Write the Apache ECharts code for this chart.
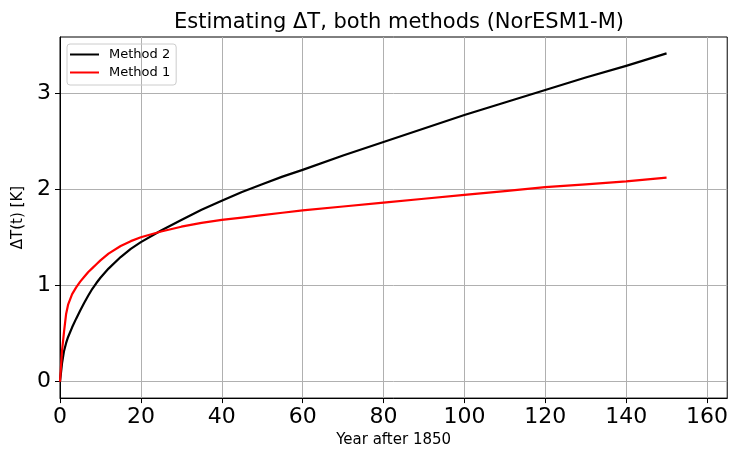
<!DOCTYPE html>
<html>
<head>
<meta charset="utf-8">
<script src="https://cdn.jsdelivr.net/npm/echarts@6/dist/echarts.min.js"></script>
<style>html,body{margin:0;padding:0;background:#fff;}#c{width:731px;height:453px;}</style>
</head>
<body>
<div id="c"></div>
<script>
var years = [0, 0.5, 1, 1.5, 2, 3, 4, 5, 6, 7, 8, 9, 10, 12, 15, 17.5, 20, 25, 30, 35, 40, 45, 50, 55, 60, 70, 80, 90, 100, 110, 120, 130, 140, 150];
var method2 = [0, 0.19, 0.32, 0.40, 0.465, 0.565, 0.655, 0.74, 0.82, 0.895, 0.965, 1.025, 1.08, 1.175, 1.295, 1.38, 1.45, 1.57, 1.68, 1.785, 1.88, 1.97, 2.05, 2.13, 2.20, 2.35, 2.49, 2.63, 2.77, 2.90, 3.03, 3.16, 3.28, 3.41];
var method1 = [0, 0.32, 0.52, 0.70, 0.80, 0.91, 0.98, 1.04, 1.09, 1.14, 1.18, 1.22, 1.26, 1.33, 1.41, 1.46, 1.50, 1.56, 1.61, 1.65, 1.68, 1.705, 1.73, 1.755, 1.78, 1.82, 1.86, 1.90, 1.94, 1.98, 2.02, 2.05, 2.08, 2.12];
var xTicks = [0, 20, 40, 60, 80, 100, 120, 140, 160];
var yTicks = [0, 1, 2, 3];

function pairs(xs, ys) { return xs.map(function (x, i) { return [x, ys[i]]; }); }

var chart = echarts.init(document.getElementById('c'), null, {renderer: 'canvas'});
var font = 'DejaVu Sans';
chart.setOption({
  animation: false,
  backgroundColor: '#fff',
  title: {
    text: 'Estimating ΔT, both methods (NorESM1-M)',
    left: 394, top: 7, textAlign: 'center',
    textStyle: {fontFamily: font, fontSize: 21, fontWeight: 'normal', color: '#000'}
  },
  legend: {
    left: 67, top: 44, orient: 'vertical',
    data: [{name: 'Method 2', icon: 'rect'}, {name: 'Method 1', icon: 'rect'}],
    itemWidth: 29, itemHeight: 2, itemGap: 5,
    borderColor: '#cccccc', borderWidth: 1, borderRadius: 3,
    padding: [4, 6, 6, 3],
    textStyle: {fontFamily: font, fontSize: 13, color: '#000', padding: [0, 0, 0, 5]}
  },
  grid: {left: 60, right: 2, top: 37, bottom: 53, show: true, borderColor: '#000', borderWidth: 1},
  xAxis: {
    type: 'value', min: 0, max: 165,
    name: 'Year after 1850', nameLocation: 'middle', nameGap: 34,
    nameTextStyle: {fontFamily: font, fontSize: 15, color: '#000'},
    axisLine: {show: true, onZero: false, lineStyle: {color: '#000', width: 1}},
    axisTick: {show: true, length: 5, customValues: xTicks, lineStyle: {color: '#000'}},
    axisLabel: {customValues: xTicks, fontFamily: font, fontSize: 22, color: '#000', margin: 8},
    splitLine: {show: true, lineStyle: {color: '#b0b0b0', width: 1}}
  },
  yAxis: {
    type: 'value', min: -0.17, max: 3.58,
    name: 'ΔT(t) [K]', nameLocation: 'middle', nameGap: 31,
    nameTextStyle: {fontFamily: font, fontSize: 15, color: '#000'},
    axisLine: {show: true, onZero: false, lineStyle: {color: '#000', width: 1}},
    axisTick: {show: true, length: 5, customValues: yTicks, lineStyle: {color: '#000'}},
    axisLabel: {customValues: yTicks, fontFamily: font, fontSize: 22, color: '#000', margin: 9},
    splitLine: {show: true, lineStyle: {color: '#b0b0b0', width: 1}}
  },
  series: [
    {name: 'Method 2', type: 'line', data: pairs(years, method2), smooth: false, showSymbol: false,
     lineStyle: {color: '#000000', width: 2.2, join: 'round'}, itemStyle: {color: '#000000'}},
    {name: 'Method 1', type: 'line', data: pairs(years, method1), smooth: false, showSymbol: false,
     lineStyle: {color: '#ff0000', width: 2.2, join: 'round'}, itemStyle: {color: '#ff0000'}}
  ]
});
</script>
</body>
</html>
